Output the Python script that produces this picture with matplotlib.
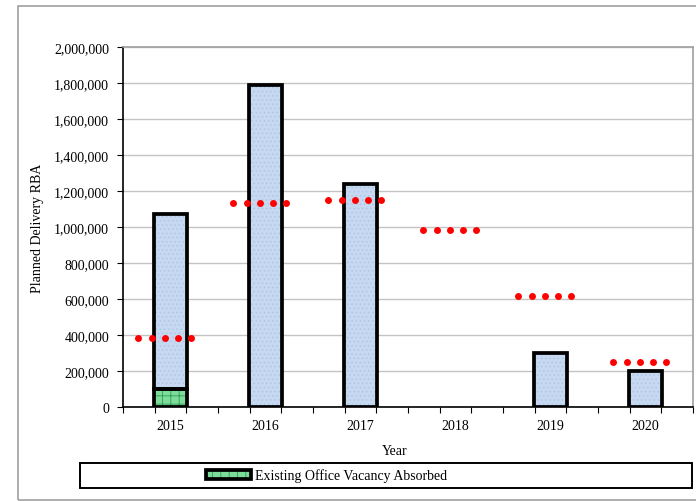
import numpy as np
import matplotlib
matplotlib.use("Agg")
import matplotlib.pyplot as plt
from matplotlib.patches import Rectangle
from matplotlib.legend_handler import HandlerTuple
from matplotlib.ticker import FuncFormatter, MultipleLocator

# data
years = ["2015", "2016", "2017", "2018", "2019", "2020"]
planned_delivery = [1070000, 1790000, 1240000, 0, 300000, 200000]
vacancy_absorbed = [100000, 0, 0, 0, 0, 0]
demand = [383000, 1133000, 1148000, 983000, 617000, 250000]

plt.rcParams["font.family"] = ["Liberation Serif", "DejaVu Serif"]
plt.rcParams["hatch.linewidth"] = 0.6

fig = plt.figure(figsize=(6.96, 5.02), dpi=100)
ax = fig.add_axes([123 / 696, 1 - 408 / 502, 570 / 696, 360 / 502])

x = np.arange(len(years))
absorbed = np.array(vacancy_absorbed)
new_build = np.array(planned_delivery) - absorbed
w = 0.35
blue = "#c6d9f1"
green = "#7ddc9a"

# new construction part (blue, stacked on top of absorbed vacancy)
m = new_build > 0
ax.bar(x[m], new_build[m], w, bottom=absorbed[m], color=blue,
       edgecolor="#aec6e6", hatch="....", linewidth=0, zorder=3)
ax.bar(x[m], new_build[m], w, bottom=absorbed[m], fill=False,
       edgecolor="black", linewidth=2.7, zorder=4)

# absorbed vacancy part (green, crosshatched)
g = absorbed > 0
gh = ax.bar(x[g], absorbed[g], w, color=green, edgecolor="#2e9a55",
            hatch="++", linewidth=0, zorder=3)
go = ax.bar(x[g], absorbed[g], w, fill=False, edgecolor="black",
            linewidth=2.7, zorder=4)

# demand shown as a row of red dots across each year
offs = np.linspace(-0.337, 0.215, 5)
for i, d in enumerate(demand):
    ax.plot(x[i] + offs, [d] * 5, "o", color="red", ms=5, mec="none",
            zorder=5, clip_on=False)

ax.set_xlim(-0.5, len(years) - 0.5)
ax.set_ylim(0, 2000000)
ax.yaxis.set_major_locator(MultipleLocator(200000))
ax.yaxis.set_major_formatter(FuncFormatter(lambda v, p: f"{int(v):,}"))
ax.grid(axis="y", color="#c4c4c4", linewidth=1, zorder=0)
ax.set_axisbelow(True)

ax.set_xticks(x)
ax.set_xticklabels(years)
ax.tick_params(axis="x", which="major", length=0, pad=9, labelsize=10)
ax.set_xticks(np.arange(-0.5, len(years) - 0.4, 1 / 3), minor=True)
ax.tick_params(axis="x", which="minor", length=4, width=0.8, direction="out")
ax.tick_params(axis="y", length=4, width=0.8, labelsize=10, pad=6)

for s in ["left", "bottom"]:
    ax.spines[s].set_color("black")
    ax.spines[s].set_linewidth(1.2)
for s in ["top", "right"]:
    ax.spines[s].set_color("#a0a0a0")
    ax.spines[s].set_linewidth(1.2)

fig.text(395 / 696, 1 - 452 / 502, "Year", ha="center", va="center", fontsize=10)
fig.text(38 / 696, 1 - 228 / 502, "Planned Delivery RBA", ha="center", va="center",
         rotation=90, fontsize=10)

# outer chart border
fig.patches.append(Rectangle((18 / 696, 0.6 / 502), 700 / 696, 494 / 502,
                             transform=fig.transFigure, fill=False,
                             edgecolor="#a0a0a0", linewidth=1.2))
# legend box
fig.patches.append(Rectangle((80 / 696, 1 - 489 / 502), 612 / 696, 25 / 502,
                             transform=fig.transFigure, fill=False,
                             edgecolor="black", linewidth=1.4))
fig.legend([(gh, go)], ["Existing Office Vacancy Absorbed"],
           handler_map={tuple: HandlerTuple(ndivide=1)},
           loc="center left", bbox_to_anchor=(193 / 696, 1 - 476.5 / 502),
           frameon=False, fontsize=10, handlelength=3.3, handleheight=0.55,
           handletextpad=0.25)

fig.savefig("out.png", dpi=100)
